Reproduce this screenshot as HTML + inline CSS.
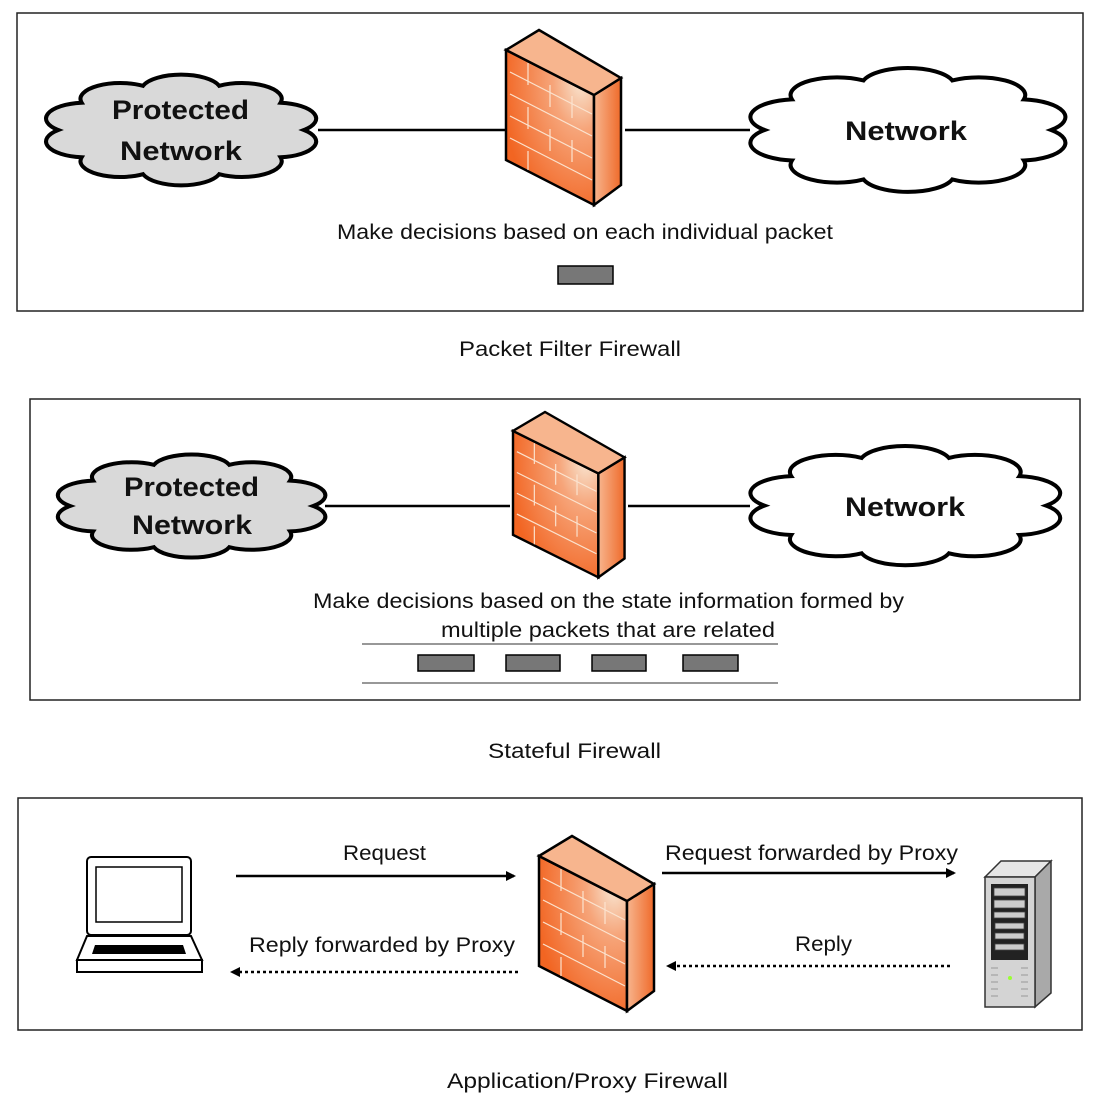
<!DOCTYPE html>
<html><head><meta charset="utf-8"><style>
html,body{margin:0;padding:0;background:#fff}
svg{display:block}
text{font-family:"Liberation Sans",sans-serif;fill:#111}
</style></head><body>
<svg width="1117" height="1099" viewBox="0 0 1117 1099" xmlns="http://www.w3.org/2000/svg">
<defs>
<radialGradient id="fg" cx="0.85" cy="0.2" r="0.9">
<stop offset="0" stop-color="#f8e6d2"/><stop offset="0.35" stop-color="#f6a57a"/><stop offset="1" stop-color="#f26522"/>
</radialGradient>
<linearGradient id="sg" x1="0" y1="0" x2="1" y2="0"><stop offset="0" stop-color="#f7b58e"/><stop offset="1" stop-color="#ef6a2a"/></linearGradient>
<g id="fw">
<polygon points="0,20 88,65 88,175 0,130" fill="url(#fg)" stroke="#000" stroke-width="2.5"/>
<polygon points="88,65 115,48 115,155 88,175" fill="url(#sg)" stroke="#000" stroke-width="2.5"/>
<polygon points="0,20 33,0 115,48 88,65" fill="#f7b58e" stroke="#000" stroke-width="2.5"/>
<g stroke="#fbe3cf" stroke-width="1.2" fill="none">
<line x1="4" y1="42" x2="86" y2="84"/><line x1="4" y1="64" x2="86" y2="106"/><line x1="4" y1="86" x2="86" y2="128"/><line x1="4" y1="108" x2="86" y2="150"/>
<line x1="22" y1="33" x2="22" y2="55"/><line x1="44" y1="55" x2="44" y2="77"/><line x1="66" y1="66" x2="66" y2="88"/><line x1="22" y1="77" x2="22" y2="99"/><line x1="66" y1="110" x2="66" y2="132"/><line x1="44" y1="99" x2="44" y2="121"/><line x1="22" y1="121" x2="22" y2="140"/>
</g>
</g>
<marker id="ah" markerWidth="10" markerHeight="10" refX="8" refY="5" orient="auto" markerUnits="userSpaceOnUse"><path d="M0,0 L10,5 L0,10 Z" fill="#000"/></marker>
</defs>

<!-- Box 1 -->
<rect x="17" y="13" width="1066" height="298" fill="none" stroke="#222" stroke-width="1.5"/>
<line x1="318" y1="130" x2="505" y2="130" stroke="#000" stroke-width="2.5"/>
<line x1="625" y1="130" x2="750" y2="130" stroke="#000" stroke-width="2.5"/>
<g transform="translate(27.6,68.8) scale(3.07,1.224)"><path d="M90,50 A13,13 0 0 1 82.4,72.3 A13,13 0 0 1 62.4,86.1 A13,13 0 0 1 37.6,86.1 A13,13 0 0 1 17.6,72.3 A13,13 0 0 1 10,50 A13,13 0 0 1 17.6,27.7 A13,13 0 0 1 37.6,13.9 A13,13 0 0 1 62.4,13.9 A13,13 0 0 1 82.4,27.7 A13,13 0 0 1 90,50 Z" fill="#d9d9d9" stroke="#000" stroke-width="4" vector-effect="non-scaling-stroke"/></g>
<g transform="translate(728.9,61.4) scale(3.58,1.371)"><path d="M90,50 A13,13 0 0 1 82.4,72.3 A13,13 0 0 1 62.4,86.1 A13,13 0 0 1 37.6,86.1 A13,13 0 0 1 17.6,72.3 A13,13 0 0 1 10,50 A13,13 0 0 1 17.6,27.7 A13,13 0 0 1 37.6,13.9 A13,13 0 0 1 62.4,13.9 A13,13 0 0 1 82.4,27.7 A13,13 0 0 1 90,50 Z" fill="#fff" stroke="#000" stroke-width="4" vector-effect="non-scaling-stroke"/></g>
<text x="112" y="119" font-size="27" font-weight="bold" textLength="137" lengthAdjust="spacingAndGlyphs">Protected</text>
<text x="120" y="160" font-size="27" font-weight="bold" textLength="122" lengthAdjust="spacingAndGlyphs">Network</text>
<text x="845" y="140" font-size="27" font-weight="bold" textLength="122" lengthAdjust="spacingAndGlyphs">Network</text>
<use href="#fw" transform="translate(506,30)"/>
<text x="337" y="239" font-size="21" textLength="496" lengthAdjust="spacingAndGlyphs">Make decisions based on each individual packet</text>
<rect x="558" y="266" width="55" height="18" fill="#777" stroke="#000" stroke-width="1.5"/>
<text x="459" y="356" font-size="21" textLength="222" lengthAdjust="spacingAndGlyphs">Packet Filter Firewall</text>

<!-- Box 2 -->
<rect x="30" y="399" width="1050" height="301" fill="none" stroke="#222" stroke-width="1.5"/>
<line x1="325" y1="506" x2="510" y2="506" stroke="#000" stroke-width="2.5"/>
<line x1="628" y1="506" x2="750" y2="506" stroke="#000" stroke-width="2.5"/>
<g transform="translate(39.6,449) scale(3.04,1.14)"><path d="M90,50 A13,13 0 0 1 82.4,72.3 A13,13 0 0 1 62.4,86.1 A13,13 0 0 1 37.6,86.1 A13,13 0 0 1 17.6,72.3 A13,13 0 0 1 10,50 A13,13 0 0 1 17.6,27.7 A13,13 0 0 1 37.6,13.9 A13,13 0 0 1 62.4,13.9 A13,13 0 0 1 82.4,27.7 A13,13 0 0 1 90,50 Z" fill="#d9d9d9" stroke="#000" stroke-width="4" vector-effect="non-scaling-stroke"/></g>
<g transform="translate(729.3,439.6) scale(3.52,1.32)"><path d="M90,50 A13,13 0 0 1 82.4,72.3 A13,13 0 0 1 62.4,86.1 A13,13 0 0 1 37.6,86.1 A13,13 0 0 1 17.6,72.3 A13,13 0 0 1 10,50 A13,13 0 0 1 17.6,27.7 A13,13 0 0 1 37.6,13.9 A13,13 0 0 1 62.4,13.9 A13,13 0 0 1 82.4,27.7 A13,13 0 0 1 90,50 Z" fill="#fff" stroke="#000" stroke-width="4" vector-effect="non-scaling-stroke"/></g>
<text x="124" y="496" font-size="27" font-weight="bold" textLength="135" lengthAdjust="spacingAndGlyphs">Protected</text>
<text x="132" y="534" font-size="27" font-weight="bold" textLength="120" lengthAdjust="spacingAndGlyphs">Network</text>
<text x="845" y="516" font-size="27" font-weight="bold" textLength="120" lengthAdjust="spacingAndGlyphs">Network</text>
<use href="#fw" transform="translate(513,412) scale(0.97,0.945)"/>
<text x="313" y="608" font-size="21" textLength="591" lengthAdjust="spacingAndGlyphs">Make decisions based on the state information formed by</text>
<text x="441" y="637" font-size="21" textLength="334" lengthAdjust="spacingAndGlyphs">multiple packets that are related</text>
<line x1="362" y1="644" x2="778" y2="644" stroke="#777" stroke-width="1.5"/>
<line x1="362" y1="683" x2="778" y2="683" stroke="#777" stroke-width="1.5"/>
<rect x="418" y="655" width="56" height="16" fill="#777" stroke="#000" stroke-width="1.5"/>
<rect x="506" y="655" width="54" height="16" fill="#777" stroke="#000" stroke-width="1.5"/>
<rect x="592" y="655" width="54" height="16" fill="#777" stroke="#000" stroke-width="1.5"/>
<rect x="683" y="655" width="55" height="16" fill="#777" stroke="#000" stroke-width="1.5"/>
<text x="488" y="758" font-size="21" textLength="173" lengthAdjust="spacingAndGlyphs">Stateful Firewall</text>

<!-- Box 3 -->
<rect x="18" y="798" width="1064" height="232" fill="none" stroke="#222" stroke-width="1.5"/>
<rect x="87" y="857" width="104" height="78" rx="4" fill="#fff" stroke="#000" stroke-width="2"/>
<rect x="96" y="867" width="86" height="55" fill="#fff" stroke="#000" stroke-width="1.5"/>
<polygon points="87,936 191,936 202,960 77,960" fill="#fff" stroke="#000" stroke-width="2"/>
<rect x="77" y="960" width="125" height="12" fill="#fff" stroke="#000" stroke-width="2"/>
<polygon points="95,945 183,945 186,954 92,954" fill="#000"/>
<line x1="236" y1="876" x2="514" y2="876" stroke="#000" stroke-width="2.5" marker-end="url(#ah)"/>
<line x1="662" y1="873" x2="954" y2="873" stroke="#000" stroke-width="2.5" marker-end="url(#ah)"/>
<line x1="518" y1="972" x2="232" y2="972" stroke="#000" stroke-width="2.5" stroke-dasharray="3,3" marker-end="url(#ah)"/>
<line x1="950" y1="966" x2="668" y2="966" stroke="#000" stroke-width="2.5" stroke-dasharray="3,3" marker-end="url(#ah)"/>
<text x="343" y="860" font-size="21" textLength="83" lengthAdjust="spacingAndGlyphs">Request</text>
<text x="665" y="860" font-size="21" textLength="293" lengthAdjust="spacingAndGlyphs">Request forwarded by Proxy</text>
<text x="249" y="952" font-size="21" textLength="266" lengthAdjust="spacingAndGlyphs">Reply forwarded by Proxy</text>
<text x="795" y="951" font-size="21" textLength="57" lengthAdjust="spacingAndGlyphs">Reply</text>
<use href="#fw" transform="translate(539,836)"/>
<polygon points="985,877 1001,861 1051,861 1035,877" fill="#e6e6e6" stroke="#333" stroke-width="1.5"/>
<polygon points="1035,877 1051,861 1051,993 1035,1007" fill="#a9a9a9" stroke="#333" stroke-width="1.5"/>
<rect x="985" y="877" width="50" height="130" fill="#d4d4d4" stroke="#333" stroke-width="1.5"/>
<rect x="991" y="884" width="37" height="76" fill="#222"/>
<g fill="#ccc" stroke="#444" stroke-width="0.8">
<rect x="994" y="888" width="31" height="8"/><rect x="994" y="900" width="31" height="8"/><rect x="994" y="912" width="31" height="6"/>
<rect x="995" y="923" width="29" height="6"/><rect x="995" y="933" width="29" height="6"/><rect x="995" y="944" width="29" height="6"/>
</g>
<circle cx="1010" cy="978" r="2" fill="#9f3"/>
<g stroke="#999" stroke-width="1"><line x1="991" y1="968" x2="998" y2="968"/><line x1="991" y1="975" x2="998" y2="975"/><line x1="991" y1="982" x2="998" y2="982"/><line x1="991" y1="989" x2="998" y2="989"/><line x1="991" y1="996" x2="998" y2="996"/><line x1="1021" y1="968" x2="1028" y2="968"/><line x1="1021" y1="975" x2="1028" y2="975"/><line x1="1021" y1="982" x2="1028" y2="982"/><line x1="1021" y1="989" x2="1028" y2="989"/><line x1="1021" y1="996" x2="1028" y2="996"/></g>
<text x="447" y="1088" font-size="21" textLength="281" lengthAdjust="spacingAndGlyphs">Application/Proxy Firewall</text>
</svg>
</body></html>
